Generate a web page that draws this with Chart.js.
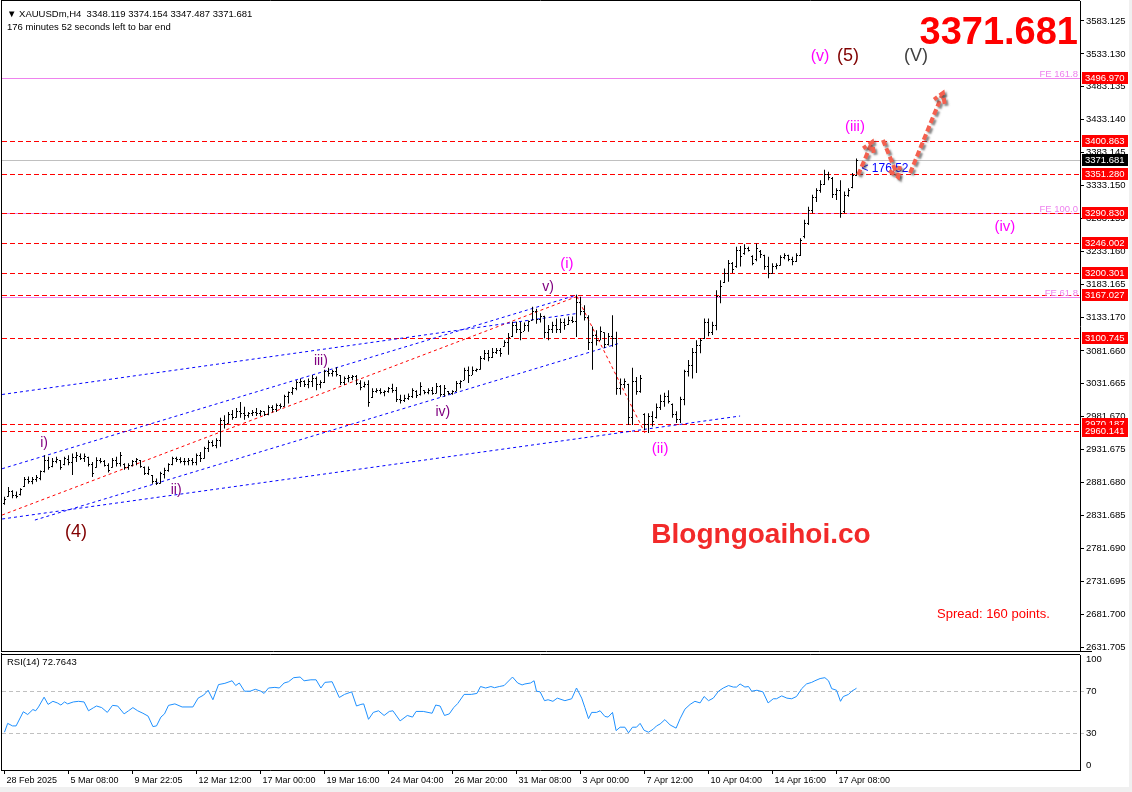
<!DOCTYPE html>
<html>
<head>
<meta charset="utf-8">
<title>XAUUSDm H4</title>
<script src="https://cdn.jsdelivr.net/npm/chart.js@4.4.1/dist/chart.umd.min.js"></script>
<style>
  html, body { margin: 0; padding: 0; background: #f0f0f0; overflow: hidden; }
  #wrap { position: relative; width: 1129px; height: 787px; background: #fff; overflow: hidden; }
  #wrap canvas { position: absolute; left: 0; }
</style>
</head>
<body>
<div id="wrap">
  <canvas id="price" width="1132" height="653" style="top:0"></canvas>
  <canvas id="rsi" width="1132" height="134" style="top:653px"></canvas>
</div>
<script>
// XAUUSDm H4 bars, index 0 = 28 Feb 2025
var opens = [
  2850,2861,2868,2862,2863,2876,2886,2883,2887,2888, 2898,2915,2906,2914,2915,2909,2917,2912,2920,2922,
  2919,2920,2909,2905,2915,2913,2908,2905,2915,2910, 2909,2904,2908,2913,2915,2905,2896,2892,2883,2881,
  2894,2900,2909,2918,2916,2914,2913,2915,2912,2923, 2919,2933,2942,2938,2946,2976,2971,2985,2981,2990,
  2986,2984,2986,2988,2986,2989,2985,2996,2992,2999, 2998,3012,3018,3024,3033,3036,3031,3036,3040,3030,
  3034,3050,3048,3050,3044,3033,3040,3042,3043,3032, 3027,3030,3011,3020,3022,3018,3020,3024,3021,3008,
  3006,3010,3012,3020,3016,3021,3018,3021,3017,3028, 3015,3020,3017,3020,3032,3037,3052,3045,3052,3053,
  3070,3078,3072,3080,3083,3088,3095,3103,3120,3115, 3112,3120,3128,3142,3130,3134,3110,3115,3120,3114,
  3125,3122,3128,3126,3155,3142,3133,3095,3105,3098, 3109,3092,3104,3100,3025,3030,3030,2980,3035,3020,
  2985,2970,2982,2980,2995,3005,3012,3000,2985,2978, 3008,3050,3060,3080,3090,3101,3125,3110,3120,3165,
  3186,3200,3215,3210,3235,3230,3238,3225,3220,3233, 3227,3210,3200,3210,3212,3224,3226,3220,3218,3227,
  3255,3275,3295,3315,3325,3335,3350,3343,3320,3325, 3293,3318,3330,3348.119
];
var highs = [
  2860,2875,2870,2868,2873,2890,2891,2890,2893,2900, 2923,2921,2919,2921,2916,2921,2923,2926,2928,2926,
  2926,2921,2913,2920,2919,2916,2911,2919,2921,2928, 2911,2911,2916,2919,2916,2906,2906,2893,2888,2898,
  2904,2911,2921,2921,2920,2919,2919,2919,2926,2928, 2936,2946,2946,2949,2980,2984,2989,2992,2995,3004,
  2997,2989,2992,2995,2992,2990,2999,2999,3002,3002, 3015,3020,3027,3037,3040,3037,3040,3045,3043,3037,
  3053,3056,3053,3057,3045,3043,3045,3045,3045,3037, 3035,3037,3025,3025,3025,3022,3027,3032,3027,3015,
  3015,3017,3025,3022,3034,3022,3025,3027,3033,3030, 3030,3021,3022,3036,3037,3056,3058,3058,3055,3074,
  3083,3083,3086,3086,3086,3098,3109,3126,3126,3126, 3125,3128,3149,3146,3139,3135,3121,3126,3131,3131,
  3131,3134,3134,3167,3164,3151,3136,3119,3113,3119, 3110,3109,3136,3111,3040,3040,3032,3056,3042,3045,
  2987,2987,2990,3002,3015,3018,3022,3002,2990,3012, 3053,3068,3086,3098,3101,3131,3131,3126,3174,3189,
  3207,3220,3217,3240,3241,3244,3240,3227,3245,3235, 3228,3225,3215,3215,3227,3230,3228,3225,3230,3253,
  3281,3301,3319,3329,3341,3357,3354,3346,3329,3341, 3324,3329,3352,3374.154
];
var lows = [
  2848,2860,2858,2858,2862,2875,2880,2879,2883,2885, 2897,2901,2905,2911,2901,2908,2908,2893,2913,2916,
  2913,2906,2890,2904,2911,2906,2897,2904,2906,2906, 2901,2901,2906,2908,2904,2893,2893,2880,2878,2880,
  2888,2898,2908,2913,2911,2908,2908,2908,2908,2913, 2918,2928,2936,2934,2936,2964,2971,2977,2980,2980,
  2977,2980,2983,2983,2983,2983,2984,2988,2989,2994, 2997,3002,3015,3022,3027,3027,3025,3027,3022,3025,
  3033,3043,3043,3043,3030,3030,3034,3037,3030,3022, 3026,2997,3010,3018,3016,3013,3018,3018,3004,3002,
  3004,3007,3010,3010,3014,3016,3016,3015,3017,3012, 3012,3015,3015,3020,3025,3037,3033,3045,3050,3053,
  3068,3066,3071,3077,3073,3088,3076,3103,3109,3098, 3112,3111,3128,3123,3125,3101,3098,3109,3109,3109,
  3114,3121,3124,3103,3136,3128,3083,3053,3090,3098, 3086,3090,3088,3015,3015,3025,2969,2969,3015,3018,
  2961,2957,2967,2979,2992,2997,3002,2980,2972,2972, 2999,3043,3040,3048,3078,3100,3104,3106,3113,3154,
  3185,3187,3200,3208,3210,3228,3233,3212,3218,3223, 3205,3192,3199,3206,3211,3221,3218,3212,3217,3226,
  3253,3273,3291,3308,3322,3334,3341,3314,3311,3284, 3291,3316,3329,3347.487
];
var closes = [
  2856,2868,2862,2860,2871,2886,2883,2887,2889,2898, 2915,2905,2914,2917,2904,2918,2912,2920,2923,2919,
  2922,2909,2896,2915,2913,2908,2900,2915,2910,2923, 2904,2908,2913,2916,2906,2896,2901,2883,2881,2895,
  2900,2909,2918,2916,2914,2913,2915,2912,2923,2918, 2933,2942,2938,2946,2976,2970,2985,2980,2990,2986,
  2984,2986,2988,2986,2989,2985,2996,2992,2999,2998, 3012,3018,3024,3033,3036,3031,3036,3040,3030,3034,
  3050,3048,3050,3046,3033,3040,3042,3043,3032,3026, 3030,3004,3020,3022,3018,3020,3024,3021,3008,3006,
  3010,3012,3021,3014,3028,3018,3021,3017,3028,3015, 3024,3017,3020,3032,3035,3052,3045,3052,3053,3070,
  3078,3072,3080,3083,3078,3095,3102,3120,3115,3110, 3120,3126,3142,3130,3134,3110,3115,3120,3114,3125,
  3120,3128,3126,3155,3142,3133,3095,3105,3098,3112, 3092,3104,3100,3025,3030,3035,2980,3035,3020,3040,
  2970,2982,2975,2995,3005,3012,3005,2985,2978,3008, 3050,3060,3080,3090,3098,3125,3110,3120,3165,3180,
  3200,3215,3205,3235,3225,3238,3235,3215,3238,3228, 3210,3200,3210,3212,3224,3226,3220,3218,3226,3250,
  3275,3295,3315,3325,3335,3350,3345,3320,3325,3290, 3318,3326,3348,3371.681
];

// RSI(14) (bar index, value)
var rsiBars = [
  0,0.8,2.0,2.9,4.7,5.8,7.1,7.8,8.5,9.9, 10.9,12.1,13.2,14.1,15.0,15.8,17.2,18.5,19.9,21.0,
  22.3,23.0,24.3,25.7,27.0,28.3,29.9,31.0,32.1,33.3, 34.6,35.9,37.1,38.0,39.1,40.0,41.0,42.6,44.4,47.1,
  48.4,49.8,50.9,52.1,53.5,55.1,56.9,57.8,58.7,60.0, 61.4,62.7,64.1,64.9,66.0,67.6,68.7,69.9,71.0,72.3,
  73.9,74.9,76.6,77.9,79.1,80.1,81.9,83.7,85.0,86.8, 88.0,89.1,89.8,91.0,92.2,93.5,94.9,96.2,97.1,98.9,
  100.7,102.0,102.9,104.7,106.9,107.8,108.9,110.0,111.2,112.3, 113.3,114.9,116.7,118.1,119.0,120.3,121.6,122.5,123.7,124.9,
  127.0,128.3,129.4,130.1,131.5,132.4,133.0,133.9,135.0,135.9, 137.1,138.2,
  140.1,141.8,143.0,144.3,145.1,146.0,146.8,148.0,148.9,150.1, 150.9,152.0,152.9,153.9,155.1,156.0,157.0,158.0,158.9,159.9,
  161.0,162.2,163.0,163.9,165.1,166.4,167.9,168.9,170.1,171.4, 172.6,173.9,174.9,176.0,177.2,178.5,179.7,181.0,182.2,183.0,
  183.9,185.1,186.0,186.8,188.1,189.6,190.9,192.2,193.0,194.3, 195.6,196.8,198.0,199.3,200.5,201.8,202.6,203.9,205.1,206.0,
  206.8,208.0,209.0,209.7,211.0,211.8,212.6,213
];
var rsiValues = [
  31.5,39.8,37.4,37.4,50.7,48.1,52.8,51.6,55.2,64.4, 57.6,60.5,59.0,57.0,59.9,58.1,59.9,60.5,59.9,51.6,
  54.6,56.1,54.6,50.1,56.7,56.1,48.7,51.6,54.6,51.6, 49.3,46.6,36.8,37.4,45.7,48.7,56.7,58.1,55.2,55.2,
  63.5,66.4,70.9,62.0,76.2,77.4,79.8,75.3,77.7,70.0, 70.0,71.8,70.0,67.9,73.0,73.6,73.0,77.7,78.9,82.7,
  83.3,79.8,80.7,80.7,73.0,78.3,78.9,64.1,67.0,69.4, 56.1,57.6,58.1,43.6,50.1,51.6,47.2,51.0,51.6,42.1,
  47.2,45.7,51.0,51.0,49.3,57.0,56.1,47.2,48.7,54.6, 58.4,67.0,67.0,67.9,74.4,73.0,74.4,73.3,74.4,75.3,
  83.3,77.7,75.9,76.8,77.7,79.8,70.0,69.4,61.1,62.0, 60.5,63.5,
  61.1,62.9,73.0,63.5,54.6,44.2,50.1,50.1,51.6,46.3, 45.7,50.1,33.0,36.2,36.2,30.9,36.2,36.2,39.8,33.3,
  31.5,34.4,37.4,39.2,43.3,38.3,35.3,44.2,53.1,57.6, 60.5,59.0,65.0,61.1,63.5,70.0,73.0,75.3,73.9,73.9,
  76.8,73.9,74.4,70.0,70.9,69.4,59.0,62.9,62.9,65.6, 63.5,62.9,65.0,72.4,76.8,78.3,79.8,81.9,82.7,79.8,
  72.4,70.9,60.5,65.0,67.0,70.0,71.8,72.8
];

var timeLabels = ['28 Feb 2025','5 Mar 08:00','9 Mar 22:05','12 Mar 12:00','17 Mar 00:00','19 Mar 16:00','24 Mar 04:00',
  '26 Mar 20:00','31 Mar 08:00','3 Apr 00:00','7 Apr 12:00','10 Apr 04:00','14 Apr 16:00','17 Apr 08:00'];
var timeBars = [0,16,32,48,64,80,96,112,128,144,160,176,192,208];

var priceTicks = [3583.125,3533.130,3483.135,3433.140,3383.145,3333.150,3283.155,3233.160,3183.165,3133.170,
  3081.660,3031.665,2981.670,2931.675,2881.680,2831.685,2781.690,2731.695,2681.700,2631.705];
var rsiTicks = [0,30,70,100];

// horizontal objects
var redLevels = [3400.863,3351.280,3290.830,3246.002,3200.301,3167.027,3100.745,2970.187,2960.141];
var feLevels = [3496.970,3290.830,3163.0];
var feNames = ['FE 161.8','FE 100.0','FE 61.8'];
var boxLevels = [3496.970,3400.863,3351.280,3290.830,3246.002,3200.301,3167.027,3100.745,2970.187,2960.141];
var lastPrice = 3371.681;

// trend lines: [bar, price] -> [bar, price]
var trendFrom = [[-0.6,3015.5],[-0.6,2902.7],[-0.6,2826.3],[7.6,2824.7],[-0.6,2832.3],[143.1,3164.4]];
var trendTo   = [[143.1,3138.6],[143.1,3166.7],[183.9,2982.8],[153.9,3093.7],[143.1,3164.4],[160.1,2957.0]];
var trendColors = ['#0000ff','#0000ff','#0000ff','#0000ff','#ff0000','#ff0000'];

// projected path arrows
var arrowFrom = [[213.4,3349.1],[219.6,3402.3],[226.4,3352.0]];
var arrowTo   = [[216.9,3399.2],[223.4,3346.0],[234.6,3473.7]];

// wave counts
var waveText  = ['i)','ii)','iii)','iv)','v)','(i)','(ii)','(iii)','(iv)','(v)','(5)','(V)','(4)'];
var waveBar   = [9.9,42.9,79.1,109.6,135.9,140.6,163.9,212.6,250.1,203.9,210.9,227.9,17.9];
var wavePrice = [2941.8,2870.3,3066.4,2988.9,3178.8,3213.8,2932.6,3422.0,3270.0,3528.4,3529.9,3529.9,2806.5];
var waveColor = ['#800080','#800080','#800080','#800080','#800080','#ff00ff','#ff00ff','#ff00ff','#ff00ff','#ff00ff','#800000','#404040','#800000'];
var waveSize  = [14,14,14,14,14,15,15,15,15,16,18,18,18];

var X_MIN = -0.625, X_MAX = 268.875;
var FAM = '"Liberation Sans", Arial, sans-serif';
function fnt(size, bold) { return (bold ? 'bold ' : '') + size + 'px ' + FAM; }

// crisp 1px horizontal line, solid or dashed
function hline(ctx, a, row, on, off) {
  if (!off) { ctx.fillRect(a.left, row, a.right - a.left, 1); return; }
  for (var xx = a.left; xx < a.right; xx += on + off) ctx.fillRect(xx, row, Math.min(on, a.right - xx), 1);
}

function arrow(ctx, x1, y1, x2, y2) {
  var ang = Math.atan2(y2 - y1, x2 - x1), h = 11;
  ctx.beginPath(); ctx.moveTo(x1, y1); ctx.lineTo(x2, y2); ctx.stroke();
  ctx.beginPath();
  ctx.moveTo(x2 - h * Math.cos(ang - 0.55), y2 - h * Math.sin(ang - 0.55));
  ctx.lineTo(x2, y2);
  ctx.lineTo(x2 - h * Math.cos(ang + 0.55), y2 - h * Math.sin(ang + 0.55));
  ctx.stroke();
}

var overlay = {
  id: 'overlay',
  beforeDatasetsDraw: function(chart) {
    var ctx = chart.ctx, a = chart.chartArea, y = chart.scales.y;
    var row = function(v) { return Math.round(y.getPixelForValue(v)); };
    ctx.save();
    ctx.fillStyle = '#ee82ee';
    feLevels.forEach(function(v) { hline(ctx, a, row(v)); });
    ctx.fillStyle = '#c0c0c0';
    hline(ctx, a, row(lastPrice));
    ctx.fillStyle = '#ff0000';
    redLevels.forEach(function(v) { hline(ctx, a, row(v), 5, 3); });
    ctx.restore();
  },
  afterDatasetsDraw: function(chart) {
    var ctx = chart.ctx, a = chart.chartArea, x = chart.scales.x, y = chart.scales.y;
    ctx.save();
    // open / close ticks of the bars
    ctx.fillStyle = '#000';
    for (var i = 0; i < opens.length; i++) {
      var xc = x.getPixelForValue(i);
      ctx.fillRect(xc - 1.5, Math.floor(y.getPixelForValue(opens[i])), 1, 1);
      ctx.fillRect(xc + 0.5, Math.floor(y.getPixelForValue(closes[i])), 1, 1);
    }
    // FE labels
    ctx.font = fnt(9.5);
    ctx.fillStyle = '#ee82ee';
    ctx.textAlign = 'right';
    ctx.textBaseline = 'alphabetic';
    feLevels.forEach(function(v, k) { ctx.fillText(feNames[k], a.right - 2, y.getPixelForValue(v) - 1); });
    // wave labels
    ctx.textAlign = 'center';
    ctx.textBaseline = 'middle';
    waveText.forEach(function(t, k) {
      ctx.font = fnt(waveSize[k]);
      ctx.fillStyle = waveColor[k];
      ctx.fillText(t, x.getPixelForValue(waveBar[k]), y.getPixelForValue(wavePrice[k]));
    });
    // bar countdown
    ctx.font = fnt(12);
    ctx.fillStyle = '#0000ff';
    ctx.textAlign = 'left';
    ctx.fillText('< 176:52', x.getPixelForValue(opens.length - 1) + 5, y.getPixelForValue(lastPrice) + 9);
    // arrows
    ctx.strokeStyle = '#f4604f';
    ctx.lineWidth = 4;
    ctx.lineCap = 'butt';
    ctx.setLineDash([6, 3]);
    ctx.shadowColor = 'rgba(70,70,70,0.65)';
    ctx.shadowOffsetX = 2;
    ctx.shadowOffsetY = 2;
    ctx.shadowBlur = 2;
    arrowFrom.forEach(function(p, k) {
      var q = arrowTo[k];
      arrow(ctx, x.getPixelForValue(p[0]), y.getPixelForValue(p[1]), x.getPixelForValue(q[0]), y.getPixelForValue(q[1]));
    });
    ctx.restore();
  },
  afterDraw: function(chart) {
    var ctx = chart.ctx, a = chart.chartArea, y = chart.scales.y;
    ctx.save();
    // window frame
    ctx.strokeStyle = '#000';
    ctx.lineWidth = 1;
    ctx.beginPath();
    ctx.moveTo(1.5, 0); ctx.lineTo(1.5, a.bottom + 1);
    ctx.moveTo(1, 0.5); ctx.lineTo(a.right, 0.5);
    ctx.moveTo(1, a.bottom + 0.5); ctx.lineTo(a.right + 12, a.bottom + 0.5);
    ctx.stroke();
    // price boxes on the axis
    ctx.font = fnt(9.5);
    ctx.textAlign = 'left';
    ctx.textBaseline = 'middle';
    boxLevels.forEach(function(v) {
      var yy = Math.round(y.getPixelForValue(v));
      ctx.fillStyle = '#ff0000';
      ctx.fillRect(a.right + 2, yy - 6, 46, 12);
      ctx.fillStyle = '#fff';
      ctx.fillText(v.toFixed(3), a.right + 5, yy + 0.5);
    });
    var ly = Math.round(y.getPixelForValue(lastPrice));
    ctx.fillStyle = '#000';
    ctx.fillRect(a.right + 2, ly - 6, 46, 12);
    ctx.fillStyle = '#fff';
    ctx.fillText(lastPrice.toFixed(3), a.right + 5, ly + 0.5);
    // header
    ctx.fillStyle = '#000';
    ctx.fillText('\u25BC XAUUSDm,H4  3348.119 3374.154 3347.487 3371.681', 7, 14);
    ctx.fillText('176 minutes 52 seconds left to bar end', 7, 27);
    // big last price
    ctx.font = fnt(38, true);
    ctx.fillStyle = '#ff0000';
    ctx.textAlign = 'right';
    ctx.textBaseline = 'alphabetic';
    ctx.fillText(lastPrice.toFixed(3), a.right - 2, 44);
    // watermark + spread
    ctx.font = fnt(28, true);
    ctx.fillStyle = '#f22a2a';
    ctx.textAlign = 'center';
    ctx.textBaseline = 'middle';
    ctx.fillText('Blogngoaihoi.co', 761, 535);
    ctx.font = fnt(13);
    ctx.fillStyle = '#ff0000';
    ctx.textAlign = 'left';
    ctx.fillText('Spread: 160 points.', 937, 614);
    ctx.restore();
  }
};

var datasets = [{
  type: 'bar',
  data: highs.map(function(h, i) { return { x: i, y: [lows[i], h] }; }),
  backgroundColor: '#000',
  barThickness: 1,
  borderWidth: 0,
  inflateAmount: 0,
  order: 0
}];
trendFrom.forEach(function(p, k) {
  datasets.push({
    type: 'line',
    data: [{ x: p[0], y: p[1] }, { x: trendTo[k][0], y: trendTo[k][1] }],
    borderColor: trendColors[k],
    borderWidth: 1,
    borderDash: [3, 3],
    pointRadius: 0,
    order: 1
  });
});

new Chart(document.getElementById('price'), {
  type: 'bar',
  data: { datasets: datasets },
  options: {
    responsive: false,
    animation: false,
    events: [],
    layout: { padding: { left: 2, right: 0, top: 1, bottom: 2 } },
    plugins: { legend: { display: false }, tooltip: { enabled: false } },
    scales: {
      x: { type: 'linear', min: X_MIN, max: X_MAX, offset: false, display: false, grid: { offset: false } },
      y: {
        position: 'right',
        min: 2625.7,
        max: 3613.5,
        beginAtZero: false,
        afterBuildTicks: function(s) { s.ticks = priceTicks.map(function(v) { return { value: v }; }); },
        afterFit: function(s) { s.width = 52; s.paddingTop = 0; s.paddingBottom = 0; },
        ticks: { autoSkip: false, padding: 2, color: '#000', font: { family: FAM, size: 9.5 },
                 callback: function(v) { return Number(v).toFixed(3); } },
        grid: { drawOnChartArea: false, tickLength: 4, color: '#000' },
        border: { display: true, color: '#000' }
      }
    }
  },
  plugins: [overlay]
});

var rsiDecor = {
  id: 'rsiDecor',
  afterDraw: function(chart) {
    var ctx = chart.ctx, a = chart.chartArea;
    ctx.save();
    ctx.strokeStyle = '#000';
    ctx.lineWidth = 1;
    ctx.beginPath();
    ctx.moveTo(1.5, 0); ctx.lineTo(1.5, a.bottom + 1);
    ctx.moveTo(1, 1.5); ctx.lineTo(a.right, 1.5);
    ctx.moveTo(1, a.bottom + 0.5); ctx.lineTo(a.right, a.bottom + 0.5);
    ctx.stroke();
    ctx.font = fnt(9.5);
    ctx.fillStyle = '#000';
    ctx.textBaseline = 'middle';
    ctx.fillText('RSI(14) 72.7643', 7, 9);
    ctx.restore();
  }
};

new Chart(document.getElementById('rsi'), {
  type: 'line',
  data: {
    datasets: [{
      data: rsiBars.map(function(b, k) { return { x: b, y: rsiValues[k] }; }),
      borderColor: '#1e90ff',
      borderWidth: 1,
      pointRadius: 0,
      tension: 0
    }]
  },
  options: {
    responsive: false,
    animation: false,
    events: [],
    layout: { padding: { left: 2, right: 0, top: 2, bottom: 0 } },
    plugins: { legend: { display: false }, tooltip: { enabled: false } },
    scales: {
      x: {
        type: 'linear', min: X_MIN, max: X_MAX, offset: false,
        afterBuildTicks: function(s) { s.ticks = timeBars.map(function(v) { return { value: v }; }); },
        afterFit: function(s) { s.height = 17; s.paddingLeft = 0; s.paddingRight = 0; },
        ticks: { autoSkip: false, maxRotation: 0, minRotation: 0, align: 'start', labelOffset: 2, padding: 1,
                 color: '#000', font: { family: FAM, size: 9 },
                 callback: function(v) { return timeLabels[timeBars.indexOf(v)]; } },
        grid: { drawOnChartArea: false, tickLength: 4, color: '#000' },
        border: { display: false }
      },
      y: {
        position: 'right', min: -4, max: 104,
        afterBuildTicks: function(s) { s.ticks = rsiTicks.map(function(v) { return { value: v }; }); },
        afterFit: function(s) { s.width = 52; s.paddingTop = 0; s.paddingBottom = 0; },
        ticks: { autoSkip: false, padding: 2, color: '#000', font: { family: FAM, size: 9.5 } },
        grid: {
          tickLength: 4,
          color: function(c) { return (c.tick && (c.tick.value === 30 || c.tick.value === 70)) ? '#c0c0c0' : 'rgba(0,0,0,0)'; }
        },
        border: { display: true, color: '#000', dash: [4, 3] }
      }
    }
  },
  plugins: [rsiDecor]
});
</script>
</body>
</html>
